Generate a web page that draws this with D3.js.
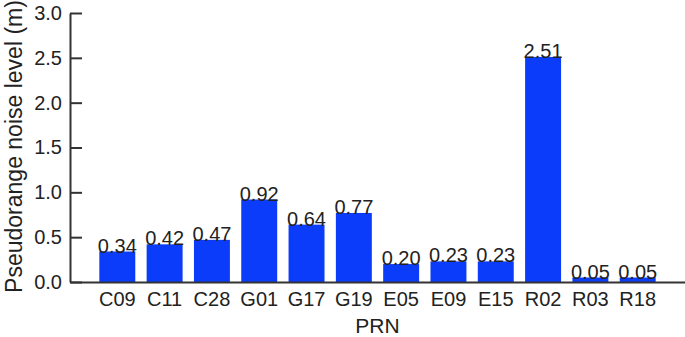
<!DOCTYPE html>
<html>
<head>
<meta charset="utf-8">
<script src="https://cdn.jsdelivr.net/npm/d3@7"></script>
<style>
  body { margin: 0; background: #fff; }
  svg { display: block; font-family: "Liberation Sans", Arial, sans-serif; }
</style>
</head>
<body>
<div id="chart"></div>
<script>
// data
var prn = ["C09", "C11", "C28", "G01", "G17", "G19", "E05", "E09", "E15", "R02", "R03", "R18"];
var noise = [0.34, 0.42, 0.47, 0.92, 0.64, 0.77, 0.20, 0.23, 0.23, 2.51, 0.05, 0.05];
var yTicks = [0, 0.5, 1.0, 1.5, 2.0, 2.5, 3.0];

var width = 685, height = 337;
var margin = {top: 13, right: 0, bottom: 55, left: 70};

var svg = d3.select("#chart")
  .append("svg")
  .attr("width", width)
  .attr("height", height);

var x = d3.scaleBand()
  .domain(prn)
  .range([margin.left, width - margin.right])
  .paddingInner(0.24)
  .paddingOuter(0.62);

var y = d3.scaleLinear()
  .domain([0, 3])
  .range([height - margin.bottom, margin.top]);

// bars
svg.selectAll("rect.bar")
  .data(prn)
  .join("rect")
  .attr("class", "bar")
  .attr("x", d => x(d))
  .attr("width", x.bandwidth())
  .attr("y", (d, i) => y(noise[i]))
  .attr("height", (d, i) => y(0) - y(noise[i]))
  .attr("fill", "#0a3cfa");

// value labels
svg.selectAll("text.val")
  .data(prn)
  .join("text")
  .attr("class", "val")
  .attr("x", d => x(d) + x.bandwidth() / 2)
  .attr("y", (d, i) => y(noise[i]) + 1)
  .attr("text-anchor", "middle")
  .attr("font-size", 20)
  .attr("fill", "#222")
  .text((d, i) => noise[i].toFixed(2));

// y axis
var yAxis = svg.append("g")
  .attr("transform", `translate(${margin.left},0)`)
  .call(d3.axisLeft(y).tickValues(yTicks).tickFormat(d3.format(".1f"))
    .tickSizeInner(-12).tickSizeOuter(0).tickPadding(8));
yAxis.select(".domain").attr("stroke", "#333").attr("stroke-width", 2);
yAxis.selectAll(".tick line").attr("stroke", "#333").attr("stroke-width", 2);
yAxis.selectAll(".tick text")
  .attr("x", -8)
  .attr("font-size", 20)
  .attr("font-family", "Liberation Sans, Arial, sans-serif")
  .attr("fill", "#222");

// x axis
var xAxis = svg.append("g")
  .attr("transform", `translate(0,${height - margin.bottom})`)
  .call(d3.axisBottom(x).tickSize(0).tickPadding(10));
xAxis.select(".domain").attr("stroke", "#333").attr("stroke-width", 2);
xAxis.selectAll(".tick text")
  .attr("font-size", 20)
  .attr("font-family", "Liberation Sans, Arial, sans-serif")
  .attr("fill", "#222");

// axis titles
svg.append("text")
  .attr("transform", `translate(22,${(margin.top + height - margin.bottom) / 2 - 1}) rotate(-90)`)
  .attr("text-anchor", "middle")
  .attr("font-size", 23)
  .attr("fill", "#222")
  .text("Pseudorange noise level (m)");

svg.append("text")
  .attr("x", (margin.left + width - margin.right) / 2)
  .attr("y", 333)
  .attr("text-anchor", "middle")
  .attr("font-size", 21)
  .attr("fill", "#222")
  .text("PRN");
</script>
</body>
</html>
